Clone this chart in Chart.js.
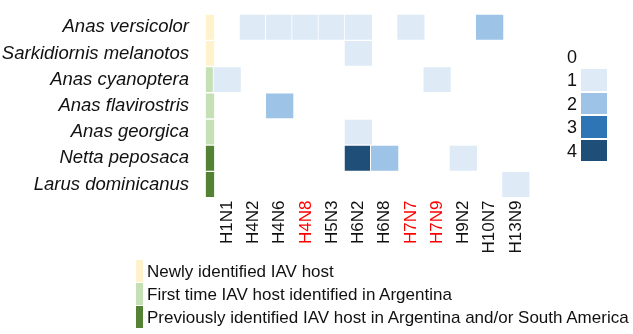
<!DOCTYPE html>
<html>
<head>
<meta charset="utf-8">
<script src="https://cdn.jsdelivr.net/npm/chart.js@4"></script>
<style>
  html, body { margin: 0; padding: 0; background: #fff; }
  #wrap { position: relative; width: 633px; height: 334px; overflow: hidden; font-family: "Liberation Sans", Arial, sans-serif; color: #111; }
  #heatmap { position: absolute; left: 0; top: 0; }
  .scale-label { position: absolute; width: 30px; text-align: right; font-size: 18px; line-height: 22px; }
  .scale-box { position: absolute; width: 26px; height: 21.5px; }
  .host-box { position: absolute; width: 6.5px; height: 22px; }
  .host-label { position: absolute; font-size: 17px; line-height: 22px; white-space: nowrap; }
</style>
</head>
<body>
<div id="wrap">
  <canvas id="heatmap" width="633" height="334"></canvas>
  <div id="scaleLegend"></div>
  <div id="hostLegend"></div>
</div>
<script>
// ==========================================
// DATA
// ==========================================
const hosts = ['Anas versicolor', 'Sarkidiornis melanotos', 'Anas cyanoptera', 'Anas flavirostris',
               'Anas georgica', 'Netta peposaca', 'Larus dominicanus'];
const subtypes = ['H1N1', 'H4N2', 'H4N6', 'H4N8', 'H5N3', 'H6N2', 'H6N8', 'H7N7', 'H7N9', 'H9N2', 'H10N7', 'H13N9'];
const redSubtypes = ['H4N8', 'H7N7', 'H7N9'];

// number of isolates per host (rows) and subtype (columns)
const counts = [
    [0, 1, 1, 1, 1, 1, 0, 1, 0, 0, 2, 0],
    [0, 0, 0, 0, 0, 1, 0, 0, 0, 0, 0, 0],
    [1, 0, 0, 0, 0, 0, 0, 0, 1, 0, 0, 0],
    [0, 0, 2, 0, 0, 0, 0, 0, 0, 0, 0, 0],
    [0, 0, 0, 0, 0, 1, 0, 0, 0, 0, 0, 0],
    [0, 0, 0, 0, 0, 4, 2, 0, 0, 1, 0, 0],
    [0, 0, 0, 0, 0, 0, 0, 0, 0, 0, 0, 1]
];

const hostGroup = [0, 0, 1, 1, 1, 2, 2];
const groupLabels = ['Newly identified IAV host', 'First time IAV host identified in Argentina',
                     'Previously identified IAV host in Argentina and/or South America'];
const groupColors = ['#FFF2CC', '#C5E0B4', '#548235'];

const countLevels = [0, 1, 2, 3, 4];
const countColors = ['#FFFFFF', '#DEEBF7', '#9DC3E6', '#2E75B6', '#1F4E79'];

// ==========================================
// HEATMAP
// ==========================================
const STRIP_X = -0.655;   // host colour strip sits just left of the first column

function buildCells() {
    const cells = [];
    counts.forEach((row, i) => {
        row.forEach((v, j) => {
            if (v > 0) cells.push({ x: j, y: [i - 0.5, i + 0.5], v: v });
        });
    });
    return cells;
}

function buildStrip() {
    return hosts.map((h, i) => ({ x: STRIP_X, y: [i - 0.5, i + 0.5], g: hostGroup[i] }));
}

function initChart() {
    new Chart(document.getElementById('heatmap'), {
        type: 'bar',
        data: {
            datasets: [
                {
                    data: buildCells(),
                    backgroundColor: c => countColors[c.raw.v],
                    barThickness: 28.6
                },
                {
                    data: buildStrip(),
                    backgroundColor: c => groupColors[c.raw.g],
                    barThickness: 9.6
                }
            ]
        },
        options: {
            responsive: false,
            animation: false,
            devicePixelRatio: 1,
            layout: { padding: { top: 3, right: 88, bottom: 0, left: 0 } },
            datasets: {
                bar: { grouped: false, borderWidth: 1, borderColor: '#FFFFFF', borderSkipped: false }
            },
            plugins: { legend: { display: false }, tooltip: { enabled: false } },
            scales: {
                x: {
                    type: 'linear',
                    min: -0.78,
                    max: 11.55,
                    grid: { display: false, drawTicks: false },
                    border: { display: false },
                    afterBuildTicks: s => { s.ticks = subtypes.map((_, j) => ({ value: j })); },
                    afterFit: s => { s.height = 136.4; },
                    ticks: {
                        autoSkip: false,
                        minRotation: 90,
                        maxRotation: 90,
                        padding: 3,
                        font: { family: 'Liberation Sans', size: 17 },
                        color: c => redSubtypes.includes(subtypes[c.tick.value]) ? '#FF0000' : '#111111',
                        callback: v => subtypes[v]
                    }
                },
                y: {
                    type: 'linear',
                    reverse: true,
                    min: -0.5,
                    max: 6.5,
                    grid: { display: false, drawTicks: false },
                    border: { display: false },
                    afterBuildTicks: s => { s.ticks = hosts.map((_, i) => ({ value: i })); },
                    afterFit: s => { s.width = 192; },
                    ticks: {
                        padding: 3,
                        font: { family: 'Liberation Sans', size: 18.5, style: 'italic' },
                        color: '#111111',
                        callback: v => hosts[v]
                    }
                }
            }
        }
    });
}

// ==========================================
// LEGENDS
// ==========================================
function buildScaleLegend() {
    const box = document.getElementById('scaleLegend');
    countLevels.forEach((lv, k) => {
        const cy = 56.6 + k * 23.5;
        box.innerHTML += `<div class="scale-label" style="left:547px;top:${cy - 11}px">${lv}</div>`;
        box.innerHTML += `<div class="scale-box" style="left:581px;top:${cy - 10.75}px;background:${countColors[lv]}"></div>`;
    });
}

function buildHostLegend() {
    const box = document.getElementById('hostLegend');
    groupLabels.forEach((txt, k) => {
        const top = 260 + k * 23.2;
        box.innerHTML += `<div class="host-box" style="left:136px;top:${top}px;background:${groupColors[k]}"></div>`;
        box.innerHTML += `<div class="host-label" style="left:147px;top:${top + 1}px">${txt}</div>`;
    });
}

initChart();
buildScaleLegend();
buildHostLegend();
</script>
</body>
</html>
